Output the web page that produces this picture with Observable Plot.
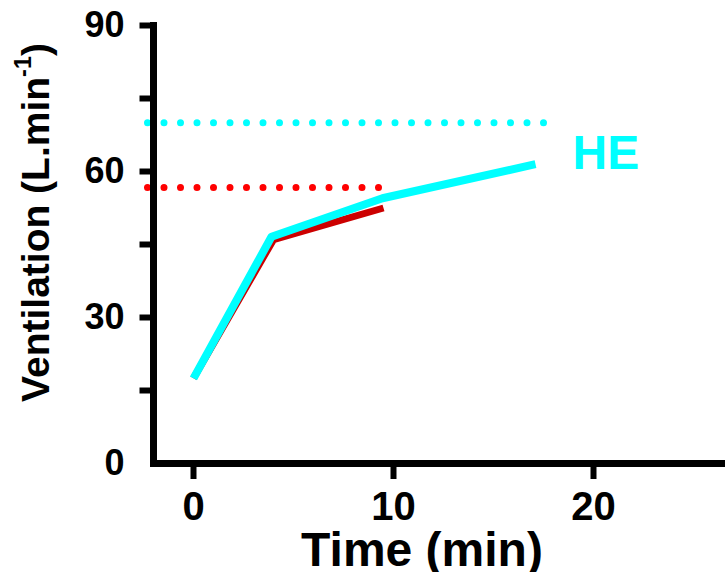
<!DOCTYPE html>
<html>
<head>
<meta charset="utf-8">
<script src="https://cdn.jsdelivr.net/npm/d3@7"></script>
<script src="https://cdn.jsdelivr.net/npm/@observablehq/plot@0.6"></script>
<style>
  html, body { margin: 0; padding: 0; background: #fff; }
  #chart { width: 725px; height: 572px; }
</style>
</head>
<body>
<div id="chart"></div>
<script>
// ---- data ----
const heTime = [0, 3.9, 9.45, 17.1];
const heVent = [17.5, 46.6, 54.5, 61.5];
const conTime = [0, 4.0, 9.5];
const conVent = [17.5, 46.0, 52.5];

const refSeries = ["CON", "HE"];
const refValue = [56.7, 70.0];
const refStart = [-2.3, -2.3];
const refEnd = [9.3, 17.55];

const seriesLabel = ["HE"];

const yTicks = [15, 30, 45, 60, 75, 90];
const yTickLabels = [0, 30, 60, 90];
const xTickLabels = [0, 10, 20];

const xTitle = "Time (min)";
const yTitle = "Ventilation (L.min-1)";

// ---- tables built from the arrays ----
const he = heTime.map((t, i) => ({t, v: heVent[i]}));
const con = conTime.map((t, i) => ({t, v: conVent[i]}));
const refs = refSeries.flatMap((s, i) => [
  {s, t: refStart[i], v: refValue[i]},
  {s, t: refEnd[i], v: refValue[i]}
]);
const heLast = [{t: heTime[heTime.length - 1], v: heVent[heVent.length - 1], label: seriesLabel[0]}];

const plot = Plot.plot({
  width: 725,
  height: 572,
  marginLeft: 153,
  marginRight: 1,
  marginTop: 25,
  marginBottom: 109,
  style: {fontFamily: "'Liberation Sans', Arial, sans-serif", background: "#fff", overflow: "visible"},
  x: {domain: [-2, 26.55]},
  y: {domain: [0, 90]},
  marks: [
    // dotted reference lines
    Plot.line(refs, {x: "t", y: "v", z: "s",
      stroke: d => d.s === "HE" ? "#00ffff" : "#ff0000",
      strokeWidth: 7, strokeDasharray: "0 16.5", strokeLinecap: "round"}),
    // data lines
    Plot.line(con, {x: "t", y: "v", stroke: "#cc0000", strokeWidth: 7, strokeLinecap: "butt", strokeLinejoin: "round"}),
    Plot.line(he, {x: "t", y: "v", stroke: "#00ffff", strokeWidth: 8, strokeLinecap: "butt", strokeLinejoin: "round"}),
    Plot.text(heLast, {x: "t", y: "v", text: "label", fill: "#00ffff", fontSize: 48, fontWeight: "bold",
      textAnchor: "start", dx: 37, dy: -11}),
    // axes
    Plot.axisY({ticks: yTicks, tickSize: 13.5, strokeWidth: 6, text: null, label: null}),
    Plot.axisY({ticks: yTickLabels, tickSize: 0, tickPadding: 29, fontSize: 36, fontWeight: "bold", label: null, fill: "#000"}),
    Plot.axisX({ticks: xTickLabels, tickSize: 16, tickPadding: 12, strokeWidth: 6, fontSize: 40, fontWeight: "bold", label: null, fill: "#000"}),
    Plot.frame({anchor: "left", strokeWidth: 7, strokeLinecap: "square"}),
    Plot.frame({anchor: "bottom", strokeWidth: 7, strokeLinecap: "square"}),
    // axis titles
    Plot.text([xTitle], {frameAnchor: "bottom", text: d => d, fontSize: 48, fontWeight: "bold", textAnchor: "middle", dx: -17, dy: 87, lineAnchor: "middle", fill: "#000"}),
    Plot.text([yTitle], {frameAnchor: "left", text: d => d, fontSize: 39, fontWeight: "bold", textAnchor: "middle", rotate: -90, dx: -117, dy: -22, lineAnchor: "middle", fill: "#000"})
  ]
});

// superscript for the unit exponent
d3.select(plot).selectAll("text").filter(function() { return this.textContent === yTitle; })
  .each(function() {
    const t = d3.select(this);
    t.text(null);
    t.append("tspan").text("Ventilation (L.min");
    t.append("tspan").attr("font-size", "0.6em").attr("dy", "-0.75em").text("-1");
    t.append("tspan").attr("dy", "0.45em").text(")");
  });

document.getElementById("chart").appendChild(plot);
</script>
</body>
</html>
